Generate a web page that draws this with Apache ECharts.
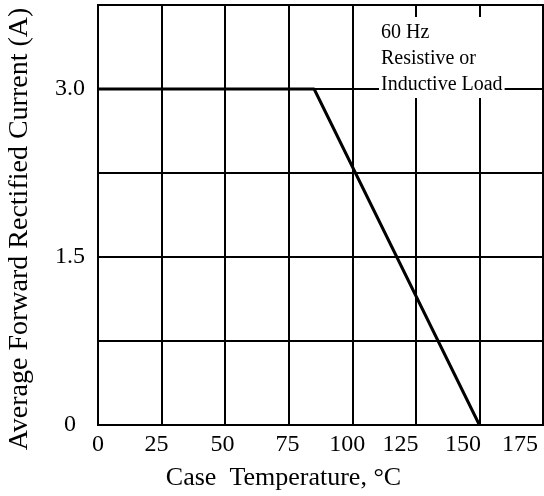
<!DOCTYPE html>
<html>
<head>
<meta charset="utf-8">
<script src="https://cdn.jsdelivr.net/npm/echarts@6/dist/echarts.min.js"></script>
<style>
  html, body { margin: 0; padding: 0; background: #fff; }
  #chart { width: 544px; height: 496px; }
</style>
</head>
<body>
<div id="chart"></div>
<script>
// derating curve: case temperature (°C) vs average forward current (A)
var tempC = [0, 85, 150];
var currentA = [3.0, 3.0, 0];
var xTickLabels = ["0", "25", "50", "75", "100", "125", "150", "175"];
// where the printed tick labels sit on the temperature scale (original art is a bit off-grid)
var xLabelAt = [0, 23, 49, 74.5, 98, 119, 143.5, 166];
var yTickLabels = { "0": "0", "1.5": "1.5", "3": "3.0" };
var noteLines = ["60 Hz", "Resistive or", "Inductive Load"];

var serif = "Liberation Serif";
var chart = echarts.init(document.getElementById("chart"));

var option = {
  animation: false,
  grid: {
    left: 98, right: 1, top: 5, bottom: 71,
    outerBoundsMode: "none",
    show: true, borderColor: "#000", borderWidth: 2
  },
  xAxis: [
    {
      type: "value", min: 0, max: 175, interval: 25,
      axisLine: { show: false },
      axisTick: { show: false },
      axisLabel: { show: false },
      splitLine: { lineStyle: { color: "#000", width: 2 } },
      name: "Case  Temperature, \u00b0C",
      nameLocation: "middle",
      nameGap: 40,
      // title sits left of the plot centre in the original
      nameTextStyle: { fontFamily: serif, fontSize: 26, color: "#000", padding: [0, 74, 0, 0] }
    },
    {
      // labels only
      type: "value", min: 0, max: 175, position: "bottom",
      axisLine: { show: false },
      axisTick: { show: false },
      splitLine: { show: false },
      axisLabel: {
        customValues: xLabelAt,
        margin: 8,
        fontFamily: serif, fontSize: 24, color: "#000",
        formatter: function (v) {
          var i = xLabelAt.indexOf(v);
          return i >= 0 ? xTickLabels[i] : "";
        }
      }
    }
  ],
  yAxis: {
    type: "value", min: 0, max: 3.75, interval: 0.75,
    axisLine: { show: false },
    axisTick: { show: false },
    splitLine: { lineStyle: { color: "#000", width: 2 } },
    axisLabel: {
      margin: 28, align: "center",
      fontFamily: serif, fontSize: 24, color: "#000",
      formatter: function (v) {
        var k = String(+v.toFixed(2));
        return yTickLabels[k] !== undefined ? yTickLabels[k] : "";
      }
    },
    name: "Average Forward Rectified Current (A)",
    nameLocation: "middle",
    nameGap: 64,
    nameTextStyle: { fontFamily: serif, fontSize: 28, color: "#000", padding: [0, 28, 0, 0] }
  },
  graphic: [
    {
      type: "text",
      left: 379, top: 17,
      z: 100,
      style: {
        text: noteLines.join("\n"),
        font: "20px " + serif,
        fill: "#000",
        lineHeight: 26,
        backgroundColor: "#fff",
        padding: [3, 2, 0, 2]
      }
    }
  ],
  series: [
    {
      type: "line",
      xAxisIndex: 0,
      data: tempC.map(function (t, i) { return [t, currentA[i]]; }),
      symbol: "none",
      lineStyle: { color: "#000", width: 3 },
      z: 5
    }
  ]
};

chart.setOption(option);
</script>
</body>
</html>
